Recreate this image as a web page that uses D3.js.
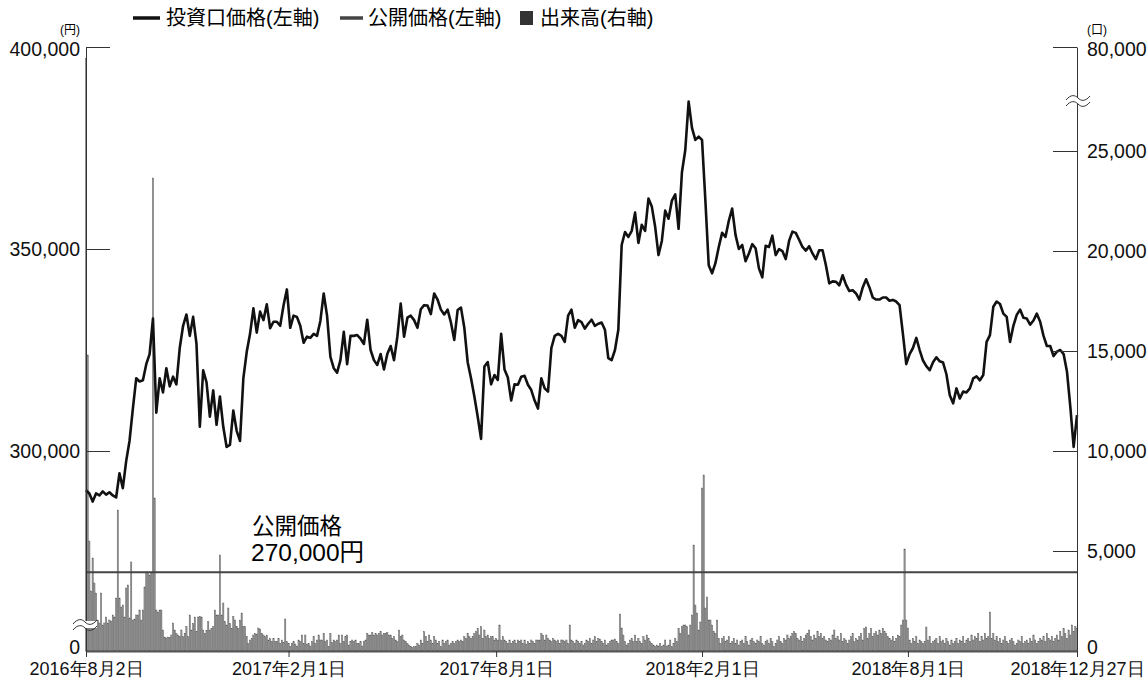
<!DOCTYPE html>
<html>
<head>
<meta charset="utf-8">
<script src="https://cdn.jsdelivr.net/npm/d3@7"></script>
<style>
  body { margin: 0; background: #fff; }
  svg { display: block; font-family: "Liberation Sans", "Noto Sans CJK JP", sans-serif; }
  .tick text { fill: #111; }
  .value-axis .tick text { font-size: 19.5px; }
  .date-axis .tick text { font-size: 18px; }
</style>
</head>
<body>
<svg></svg>
<script>
// trading calendar (TSE closed on these weekdays)
const startDate = "2016-08-02"
const endDate = "2018-12-27"
const holidays = ["2016-08-11","2016-09-19","2016-09-22","2016-10-10","2016-11-03","2016-11-23","2016-12-23",
  "2017-01-02","2017-01-03","2017-01-09","2017-03-20","2017-05-03","2017-05-04","2017-05-05","2017-07-17",
  "2017-08-11","2017-09-18","2017-10-09","2017-11-03","2017-11-23",
  "2018-01-01","2018-01-02","2018-01-03","2018-01-08","2018-02-12","2018-03-21","2018-04-30","2018-05-03",
  "2018-05-04","2018-07-16","2018-09-17","2018-09-24","2018-10-08","2018-11-23","2018-12-24"]

const tickDates = ["2016-08-02","2017-02-01","2017-08-01","2018-02-01","2018-08-01","2018-12-27"]
const tickLabels = ["2016年8月2日","2017年2月1日","2017年8月1日","2018年2月1日","2018年8月1日","2018年12月27日"]

const publicPrice = 270000

// closing price, one value every 2 trading days (yen)
const prices = [
  290300,289500,287500,289500,289000,290000,289200,289800,289000,288500,
  294500,290800,297500,302500,310500,318000,317200,317500,321500,324000,
  332800,309500,318000,314500,320500,316000,318400,316500,325500,331000,
  333800,328500,333200,326500,306000,320000,317000,308500,315000,306500,
  313500,306000,301000,301500,310000,305000,302500,318000,324500,329000,
  335300,329300,334500,332400,336300,330400,332000,332000,331000,336000,
  340000,330500,333500,333200,331000,326800,328300,328000,329000,328500,
  332200,339000,333500,323300,320500,319400,322500,329500,321500,328500,
  328500,328700,327800,326500,332500,325000,322500,321300,324000,320200,
  324000,326000,322500,328300,336500,328300,333000,333500,332400,330500,
  335100,336100,336000,333900,339000,337500,335000,333800,335000,331800,
  327500,334900,335500,330500,322000,318000,313500,308500,303000,320900,
  322000,316500,318800,317600,329000,320200,318200,312500,316500,316400,
  318400,318600,316400,315100,312500,310500,318000,315500,314700,325500,
  328500,329000,328500,327000,333500,335000,330500,332400,331900,330300,
  331500,332500,331000,331500,331800,330000,323000,322500,325000,330000,
  351000,354200,353000,354500,359000,351500,356000,354500,362500,360500,
  355500,348500,352000,359500,357500,362000,363500,355000,369000,374500,
  386500,380000,377000,377800,377000,362000,346000,344000,346500,350500,
  354000,353000,357000,360000,353500,350000,351000,347000,348900,351200,
  350200,345200,343000,350800,350500,353300,348500,350000,349500,347500,
  352000,354300,354000,352300,350500,349600,350700,348900,347500,349700,
  349700,346000,341500,342000,341900,341000,343500,341200,339600,339800,
  339000,337500,340500,342500,340500,338000,337500,337500,338000,338000,
  337200,337400,337000,336100,329000,321500,324000,325500,328000,325000,
  322400,321000,320000,322000,323200,322200,321900,319000,313800,311800,
  315500,313000,314700,314500,315500,318000,318500,317500,318800,327000,
  328700,335700,337000,336400,334000,333200,327000,331000,333700,335000,
  333000,332800,331300,332300,334000,332000,328500,326000,326000,323500,
  324600,325000,324000,319700,311000,301000,308900
]

// daily trading volume (units)
const volumes = [
  74000,14800,5500,3000,4650,3400,2900,1550,1400,2900,
  1300,1400,1700,1400,1550,1500,1800,1700,2650,7050,
  2650,2200,2300,1700,3150,3300,1650,4450,1550,1600,
  1800,1800,2050,1550,2050,3200,3950,3950,3800,3900,
  23650,7650,2050,1950,2050,2050,1050,700,650,700,
  680,800,1400,1050,880,800,720,1050,720,880,
  1220,720,1800,1050,1380,1700,970,1700,1720,1700,
  1050,880,1020,1470,1050,1130,1220,2050,1800,1800,
  4800,1800,2400,1470,1300,2150,1380,1130,1720,1550,
  1220,1130,1550,1900,1220,1220,720,380,550,630,
  800,880,850,1150,1100,880,800,720,800,550,
  630,470,630,470,470,630,380,550,420,1600,
  470,380,220,380,470,350,250,550,470,800,
  380,800,350,380,250,470,720,380,550,800,
  550,550,880,470,550,220,880,420,550,470,
  550,800,380,800,470,720,800,300,470,550,
  470,550,380,380,470,250,470,550,880,800,
  800,920,800,880,800,880,970,800,880,880,
  920,800,800,630,720,550,470,1050,720,800,
  550,470,380,300,220,180,220,220,380,300,
  550,380,970,720,470,800,550,380,720,550,
  380,470,220,550,380,470,550,300,380,470,
  380,470,550,470,550,470,720,630,880,720,
  630,720,880,970,1130,800,1220,630,1050,720,
  800,630,720,720,550,630,550,1300,550,720,
  550,470,380,550,380,470,550,380,550,470,
  550,380,550,350,470,380,550,470,380,550,
  550,550,880,800,550,800,630,550,470,630,
  550,470,550,380,550,550,470,550,380,1300,
  550,470,380,550,470,380,470,300,380,550,
  470,630,380,550,720,470,630,600,470,380,
  550,300,380,470,550,550,600,470,380,1850,
  1150,800,470,300,380,550,630,470,800,470,
  630,470,380,720,550,800,630,470,380,300,
  220,300,250,380,220,300,550,250,300,550,
  220,380,630,470,1130,880,1220,1300,1300,1220,
  800,1300,1800,5300,2300,1900,1050,1450,8150,8800,
  2150,2700,1550,1550,1300,970,880,1550,630,380,
  630,720,470,550,720,380,470,630,380,550,
  300,470,550,380,720,470,300,550,630,470,
  380,550,470,720,380,300,470,550,380,630,
  470,220,380,550,720,470,380,630,550,800,
  630,720,880,970,880,630,550,720,470,630,
  800,880,1050,720,550,800,630,970,720,880,
  630,720,550,470,630,550,800,1050,630,720,
  550,880,470,630,550,380,550,720,880,470,
  630,550,720,880,550,1130,1200,630,880,1130,
  720,880,970,800,1050,880,1130,970,880,720,
  630,550,720,470,630,800,720,1300,1550,5100,
  1550,1150,550,380,630,470,720,380,550,470,
  380,470,1200,550,720,380,470,550,630,380,
  720,470,550,380,630,470,300,550,380,470,
  630,380,550,470,720,380,550,630,470,800,
  550,720,630,880,470,720,550,880,630,720,
  1950,630,880,550,720,470,630,380,550,720,
  470,380,550,630,470,300,380,550,470,720,
  380,470,550,380,630,470,800,550,380,470,
  630,550,720,470,880,630,550,720,470,630,
  800,550,970,720,1130,880,630,1050,800,1300,
  970,1220,1130
]

const priceTicks = [0, 300000, 350000, 400000]
const volumeTicks = [0, 5000, 10000, 15000, 20000, 25000, 80000]

const fmt = d3.utcFormat("%Y-%m-%d")
const days = d3.utcDay.range(new Date(startDate), d3.utcDay.offset(new Date(endDate), 1))
  .filter(d => d.getUTCDay() > 0 && d.getUTCDay() < 6 && !holidays.includes(fmt(d)))
  .map(fmt)

const plotLeft = 86, plotRight = 1077, plotTop = 47, plotBase = 651

const svg = d3.select("svg")
  .attr("width", 1147)
  .attr("height", 681)

const x = d3.scaleLinear().domain([0, days.length - 1]).range([plotLeft, plotRight])
// both value axes are broken: price below 256,000 and volume above 25,000 are squeezed
const yPrice = d3.scaleLinear().domain([0, 256000, 400000]).range([plotBase, 628.8, plotTop])
const yVol = d3.scaleLinear().domain([0, 25000, 80000]).range([plotBase, 151, plotTop])

// volume bars
svg.append("g")
  .selectAll("rect")
  .data(volumes.slice(0, days.length))
  .enter()
  .append("rect")
  .attr("x", (d, i) => x(i) - 0.65)
  .attr("y", d => yVol(d))
  .attr("width", 1.3)
  .attr("height", d => plotBase - yVol(d))
  .attr("fill", "#969696")
  .attr("stroke", "#555")
  .attr("stroke-width", 0.4)

// public offering price
svg.append("line")
  .attr("x1", plotLeft).attr("x2", plotRight)
  .attr("y1", yPrice(publicPrice)).attr("y2", yPrice(publicPrice))
  .attr("stroke", "#444")
  .attr("stroke-width", 2.2)

// unit price line
const line = d3.line()
  .x((d, i) => x(i * 2))
  .y(d => yPrice(d))

svg.append("path")
  .datum(prices)
  .attr("d", line)
  .attr("fill", "none")
  .attr("stroke", "#111")
  .attr("stroke-width", 2.6)
  .attr("stroke-linejoin", "round")

// axes
const leftAxis = svg.append("g")
  .attr("class", "value-axis")
  .attr("transform", `translate(${plotLeft},0)`)
  .call(d3.axisLeft(yPrice).tickValues(priceTicks).tickFormat(d3.format(","))
    .tickSize(-24).tickSizeOuter(0).tickPadding(6))

const rightAxis = svg.append("g")
  .attr("class", "value-axis")
  .attr("transform", `translate(${plotRight},0)`)
  .call(d3.axisRight(yVol).tickValues(volumeTicks).tickFormat(d3.format(","))
    .tickSize(-24).tickSizeOuter(0).tickPadding(10))

const bottomAxis = svg.append("g")
  .attr("class", "date-axis")
  .attr("transform", `translate(0,${plotBase})`)
  .call(d3.axisBottom(x).tickValues(tickDates.map(t => days.indexOf(t)))
    .tickFormat((d, i) => tickLabels[i]).tickSize(6).tickSizeOuter(0).tickPadding(5))

leftAxis.selectAll("path, line").attr("stroke", "#333")
rightAxis.selectAll("path, line").attr("stroke", "#333")
leftAxis.selectAll(".tick line").filter(d => d === 0).remove()
rightAxis.selectAll(".tick line").filter(d => d === 0).remove()
leftAxis.selectAll(".tick text").filter(d => d === 0).attr("dy", "0.15em")
rightAxis.selectAll(".tick text").filter(d => d === 0).attr("dy", "0.15em")
leftAxis.selectAll(".tick text").filter(d => d === 400000).attr("dy", "0.45em")
rightAxis.selectAll(".tick text").filter(d => d === 80000).attr("dy", "0.45em")
bottomAxis.selectAll("path").attr("stroke", "#555").attr("stroke-width", 2)
bottomAxis.selectAll("line").attr("stroke", "#333")

// axis break marks
function breakMark(cx, cy) {
  const wave = (dy) => `M${cx - 12},${cy + dy + 2} C${cx - 7},${cy + dy - 4} ${cx - 3},${cy + dy - 3} ${cx},${cy + dy} S${cx + 7},${cy + dy + 4} ${cx + 12},${cy + dy - 2}`
  svg.append("rect")
    .attr("x", cx - 12).attr("y", cy - 1).attr("width", 24).attr("height", 7)
    .attr("fill", "#fff")
  svg.append("path").attr("d", wave(0)).attr("fill", "none").attr("stroke", "#333").attr("stroke-width", 1)
  svg.append("path").attr("d", wave(6)).attr("fill", "none").attr("stroke", "#333").attr("stroke-width", 1)
}
breakMark(plotLeft - 1, 622)
breakMark(plotRight + 1, 98)

// unit labels
svg.append("text").attr("x", 70).attr("y", 34).attr("text-anchor", "middle")
  .style("font-size", "12px").text("(円)")
svg.append("text").attr("x", 1097).attr("y", 34).attr("text-anchor", "middle")
  .style("font-size", "12px").text("(口)")

// annotation
svg.append("text").attr("x", 252).attr("y", 534).style("font-size", "22.5px").text("公開価格")
svg.append("text").attr("x", 251).attr("y", 561).style("font-size", "24.5px").text("270,000円")

// legend
const legend = svg.append("g").style("font-size", "20px")
legend.append("line").attr("x1", 133).attr("x2", 160).attr("y1", 18).attr("y2", 18)
  .attr("stroke", "#111").attr("stroke-width", 3.5)
legend.append("text").attr("x", 166).attr("y", 25).text("投資口価格(左軸)")
legend.append("line").attr("x1", 340).attr("x2", 363).attr("y1", 18).attr("y2", 18)
  .attr("stroke", "#444").attr("stroke-width", 3.5)
legend.append("text").attr("x", 368).attr("y", 25).text("公開価格(左軸)")
legend.append("rect").attr("x", 520).attr("y", 11).attr("width", 13).attr("height", 14)
  .attr("fill", "#333")
legend.append("text").attr("x", 540).attr("y", 25).text("出来高(右軸)")
</script>
</body>
</html>
